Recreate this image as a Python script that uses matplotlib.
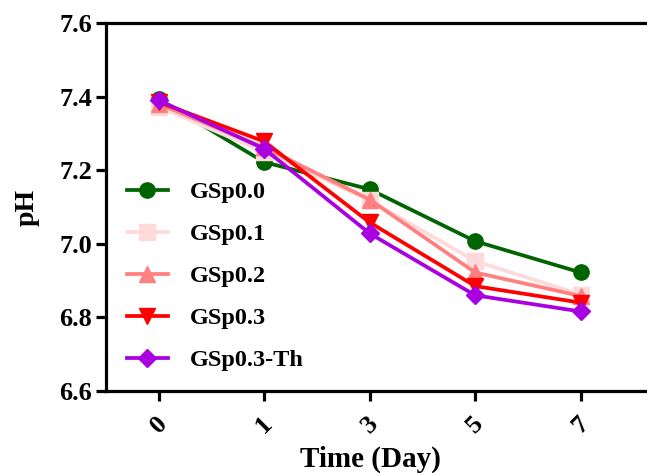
import matplotlib
matplotlib.use("Agg")
import matplotlib.pyplot as plt

plt.rcParams['font.family'] = ['Liberation Serif', 'DejaVu Serif']
plt.rcParams['font.weight'] = 'bold'

days = ["0", "1", "3", "5", "7"]
gsp00 = [7.393, 7.222, 7.148, 7.007, 6.922]
gsp01 = [7.372, 7.250, 7.118, 6.953, 6.862]
gsp02 = [7.380, 7.262, 7.120, 6.922, 6.858]
gsp03 = [7.385, 7.278, 7.058, 6.885, 6.840]
gsp03th = [7.390, 7.258, 7.028, 6.860, 6.816]

labels = ["GSp0.0", "GSp0.1", "GSp0.2", "GSp0.3", "GSp0.3-Th"]
colors = ["#006400", "#FFDADA", "#FF8080", "#FF0000", "#A800E0"]
markers = ["o", "s", "^", "v", "D"]
msizes = [11, 11, 11, 11, 9.5]
series = [gsp00, gsp01, gsp02, gsp03, gsp03th]

fig = plt.figure(figsize=(6.47, 4.73), dpi=100)
ax = fig.add_axes([0.1638, 0.1734, 0.856, 0.778])

x = list(range(len(days)))
for vals, lab, c, m, ms in zip(series, labels, colors, markers, msizes):
    ax.plot(x, vals, color=c, marker=m, markersize=ms, linewidth=2.7, label=lab,
            markeredgecolor=c)

ax.set_xlim(-0.5, 4.75)
ax.set_ylim(6.6, 7.6)
ax.set_yticks([6.6, 6.8, 7.0, 7.2, 7.4, 7.6])
ax.set_yticklabels(["6.6", "6.8", "7.0", "7.2", "7.4", "7.6"])
ax.set_xticks(x)
ax.set_xticklabels(days, rotation=45, ha='center', va='top')

for s in ax.spines.values():
    s.set_linewidth(2.3)
ax.tick_params(axis='both', width=2.3, length=7, labelsize=19, pad=3)
ax.tick_params(axis='x', pad=8)

ax.set_xlabel("Time (Day)", fontsize=21, fontweight='bold')
ax.xaxis.set_label_coords(0.478, -0.148)
ax.set_ylabel("pH", fontsize=20, fontweight='bold')
ax.yaxis.set_label_coords(-0.12, 0.5)

leg = ax.legend(loc='upper left', bbox_to_anchor=(0.02, 0.596), frameon=False,
                fontsize=17.5, handlelength=1.7, handletextpad=0.9, labelspacing=0.82,
                borderaxespad=0)
for t in leg.get_texts():
    t.set_fontweight('bold')

fig.savefig("out.png", dpi=100)
